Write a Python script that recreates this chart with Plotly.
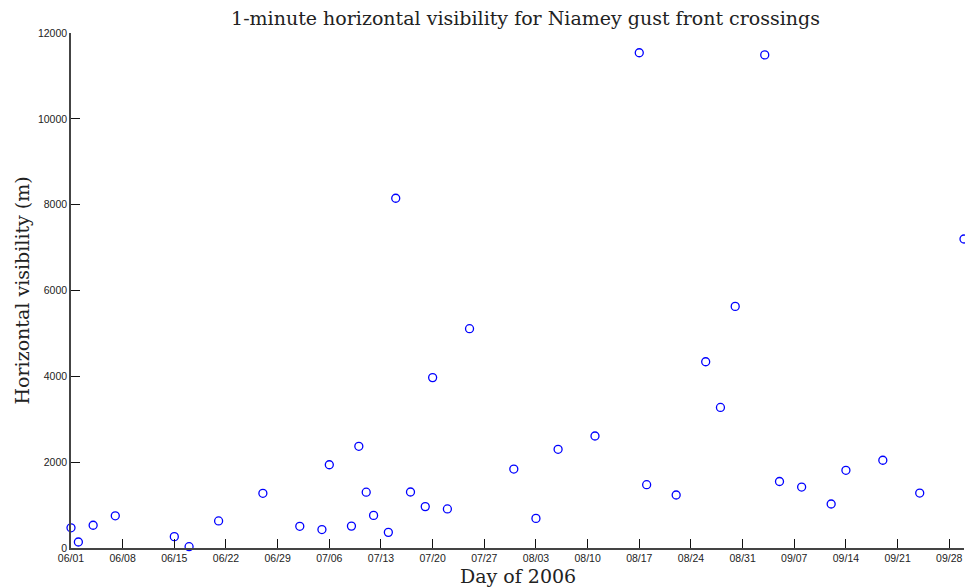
import plotly.graph_objects as go

# Gust front crossing dates at Niamey (2006) and 1-minute horizontal visibility (m)
dates = [
    "2006-06-01", "2006-06-02", "2006-06-04", "2006-06-07", "2006-06-15",
    "2006-06-17", "2006-06-21", "2006-06-27", "2006-07-02", "2006-07-05",
    "2006-07-06", "2006-07-09", "2006-07-10", "2006-07-11", "2006-07-12",
    "2006-07-14", "2006-07-15", "2006-07-17", "2006-07-19", "2006-07-20",
    "2006-07-22", "2006-07-25", "2006-07-31", "2006-08-03", "2006-08-06",
    "2006-08-11", "2006-08-17", "2006-08-18", "2006-08-22", "2006-08-26",
    "2006-08-28", "2006-08-30", "2006-09-03", "2006-09-05", "2006-09-08",
    "2006-09-12", "2006-09-14", "2006-09-19", "2006-09-24", "2006-09-30",
]
visibility = [
    470, 140, 530, 750, 265,
    30, 630, 1275, 505, 430,
    1940, 510, 2370, 1300, 760,
    365, 8150, 1305, 965, 3970,
    910, 5110, 1840, 690, 2300,
    2610, 11540, 1475, 1235, 4340,
    3275, 5630, 11490, 1550, 1420,
    1025, 1810, 2045, 1280, 7200,
]

# Weekly date ticks and y ticks
x_tickvals = [
    "2006-06-01", "2006-06-08", "2006-06-15", "2006-06-22", "2006-06-29",
    "2006-07-06", "2006-07-13", "2006-07-20", "2006-07-27", "2006-08-03",
    "2006-08-10", "2006-08-17", "2006-08-24", "2006-08-31", "2006-09-07",
    "2006-09-14", "2006-09-21", "2006-09-28",
]
y_tickvals = [0, 2000, 4000, 6000, 8000, 10000, 12000]

serif = "DejaVu Serif, Liberation Serif, serif"
sans = "Liberation Sans, Arial, sans-serif"

fig = go.Figure()
fig.add_trace(go.Scatter(
    x=dates, y=visibility, mode="markers",
    marker=dict(symbol="circle-open", size=8, color="#0000ff",
                line=dict(width=1.3, color="#0000ff")),
    cliponaxis=False, showlegend=False,
))

fig.update_layout(
    width=965, height=587,
    margin=dict(l=71, r=1, t=33, b=39),
    paper_bgcolor="white", plot_bgcolor="white",
    title=dict(text="1-minute horizontal visibility for Niamey gust front crossings",
               x=0.5446, xanchor="center", y=0.968, yanchor="middle",
               font=dict(family=serif, size=19, color="#222")),
    xaxis=dict(
        type="date", range=["2006-06-01", "2006-09-30"],
        tickvals=x_tickvals, tickformat="%m/%d",
        ticks="inside", ticklen=9, tickwidth=1.2, tickcolor="#111",
        showline=True, linecolor="#444", linewidth=1.5, mirror=False,
        showgrid=False, zeroline=False,
        tickfont=dict(family=sans, size=10.5, color="#222"),
    ),
    yaxis=dict(
        range=[0, 12000], tickvals=y_tickvals, tickformat="d",
        ticks="inside", ticklen=9, tickwidth=1.2, tickcolor="#111",
        showline=True, linecolor="#444", linewidth=1.5, mirror=False,
        showgrid=False, zeroline=False,
        tickfont=dict(family=sans, size=10.5, color="#222"),
    ),
    annotations=[
        dict(text="Day of 2006", xref="paper", yref="paper",
             x=0.5, y=0, xanchor="center", yanchor="middle", yshift=-28,
             showarrow=False, font=dict(family=serif, size=19, color="#222")),
        dict(text="Horizontal visibility (m)", xref="paper", yref="paper",
             x=0, y=0.5, xanchor="center", yanchor="middle", xshift=-50,
             textangle=-90, showarrow=False,
             font=dict(family=serif, size=19, color="#222")),
    ],
)

fig.write_html("out.html")
